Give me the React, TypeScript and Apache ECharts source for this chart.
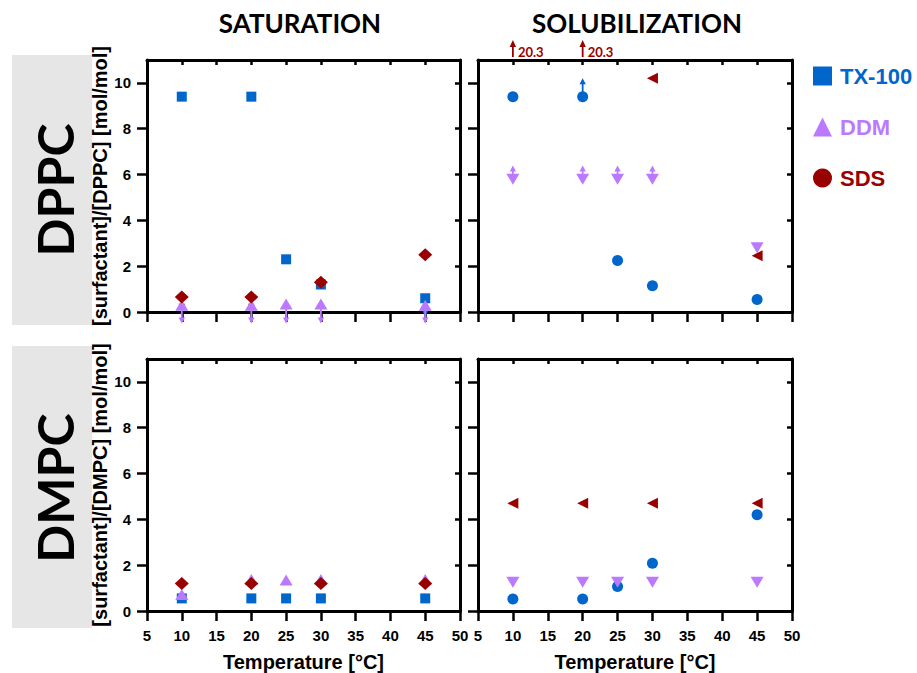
import React, { useEffect, useRef } from 'react';
import * as echarts from 'echarts';

// ---------- data ----------
const xTicks = [5, 10, 15, 20, 25, 30, 35, 40, 45, 50];
const yTicks = [0, 2, 4, 6, 8, 10];
const panelTitles = ['SATURATION', 'SOLUBILIZATION'];
const lipids = ['DPPC', 'DMPC'];
const yAxisNames = ['[surfactant]/[DPPC] [mol/mol]', '[surfactant]/[DMPC] [mol/mol]'];
const xAxisName = 'Temperature [°C]';
const surfactants = ['TX-100', 'DDM', 'SDS'];

// SATURATION – DPPC
const satDppcTX = [[10, 9.4], [20, 9.4], [25, 2.3], [30, 1.2], [45, 0.6]];
const satDppcDDM = [[10, 0.3], [20, 0.3], [25, 0.35], [30, 0.35], [45, 0.3]];
const satDppcSDS = [[10, 0.65], [20, 0.65], [30, 1.3], [45, 2.5]];
const satDppcTXArrows = [[45, 0.6, -0.2]];
const satDppcDDMArrows = [[10, 0.3, -0.5], [20, 0.3, -0.5], [25, 0.35, -0.5], [30, 0.35, -0.5], [45, 0.3, -0.5]];
const satDppcSDSArrows = [[10, 0.65, 0.1], [20, 0.65, 0.1]];

// SOLUBILIZATION – DPPC
const solDppcTX = [[10, 9.4], [20, 9.4], [25, 2.25], [30, 1.15], [45, 0.55]];
const solDppcDDM = [[10, 5.8], [20, 5.8], [25, 5.8], [30, 5.8], [45, 2.8]];
const solDppcSDS = [[30, 10.2], [45, 2.45]];
const solDppcSDSOffScale = [[10, 20.3], [20, 20.3]];
const solDppcTXArrows = [[20, 9.4, 10.2]];
const solDppcDDMArrows = [[10, 5.8, 6.4], [20, 5.8, 6.4], [25, 5.8, 6.4], [30, 5.8, 6.4]];

// SATURATION – DMPC
const satDmpcTX = [[10, 0.55], [20, 0.55], [25, 0.55], [30, 0.55], [45, 0.55]];
const satDmpcDDM = [[10, 0.72], [20, 1.38], [25, 1.35], [30, 1.38], [45, 1.38]];
const satDmpcSDS = [[10, 1.2], [20, 1.2], [30, 1.2], [45, 1.2]];

// SOLUBILIZATION – DMPC
const solDmpcTX = [[10, 0.52], [20, 0.52], [25, 1.07], [30, 2.08], [45, 4.2]];
const solDmpcDDM = [[10, 1.25], [20, 1.25], [25, 1.25], [30, 1.25], [45, 1.25]];
const solDmpcSDS = [[10, 4.7], [20, 4.7], [30, 4.7], [45, 4.7]];

// ---------- style ----------
const BLUE = '#0066CC';
const PURPLE = '#BB79FF';
const RED = '#990000';
const AXIS_FONT = '"Liberation Sans", Arial, sans-serif';
const TITLE_FONT = 'Lato, "Open Sans", sans-serif';

const grids = [
  { left: 147, top: 60, width: 313, height: 252 },
  { left: 478, top: 60, width: 314, height: 252 },
  { left: 147, top: 359, width: 313, height: 252 },
  { left: 478, top: 359, width: 314, height: 252 },
];

function buildOption() {
  const xAxis: any[] = [];
  const yAxis: any[] = [];
  grids.forEach((_, i) => {
    const isBottomRow = i >= 2;
    const isLeftCol = i % 2 === 0;
    xAxis.push({
      type: 'value', gridIndex: i, position: 'bottom', min: 5, max: 50, interval: 5,
      axisLine: { show: true, onZero: false, lineStyle: { color: '#000', width: 3 } },
      axisTick: { show: true, inside: false, length: 10, customValues: xTicks, lineStyle: { color: '#000', width: 2.5 } },
      axisLabel: { show: isBottomRow, customValues: xTicks, margin: 17, color: '#000', fontFamily: AXIS_FONT, fontWeight: 'bold', fontSize: 15 },
      splitLine: { show: false },
      name: isBottomRow ? xAxisName : '', nameLocation: 'middle', nameGap: 41,
      nameTextStyle: { color: '#000', fontFamily: AXIS_FONT, fontWeight: 'bold', fontSize: 20 },
    });
    xAxis.push({
      type: 'value', gridIndex: i, position: 'top', min: 5, max: 50, interval: 5,
      axisLine: { show: true, onZero: false, lineStyle: { color: '#000', width: 3 } },
      axisTick: { show: true, inside: true, length: 5, customValues: xTicks, lineStyle: { color: '#000', width: 2.5 } },
      axisLabel: { show: false }, splitLine: { show: false },
    });
    yAxis.push({
      type: 'value', gridIndex: i, position: 'left', min: 0, max: 11,
      axisLine: { show: true, onZero: false, lineStyle: { color: '#000', width: 3 } },
      axisTick: { show: true, inside: false, length: 10, customValues: yTicks, lineStyle: { color: '#000', width: 2.5 } },
      axisLabel: { show: isLeftCol, customValues: yTicks, margin: 16, color: '#000', fontFamily: AXIS_FONT, fontWeight: 'bold', fontSize: 15 },
      splitLine: { show: false },
      name: isLeftCol ? yAxisNames[isBottomRow ? 1 : 0] : '', nameLocation: 'middle', nameGap: 31, nameRotate: 90,
      nameTextStyle: { color: '#000', fontFamily: AXIS_FONT, fontWeight: 'bold', fontSize: 20 },
    });
    yAxis.push({
      type: 'value', gridIndex: i, position: 'right', min: 0, max: 11,
      axisLine: { show: true, onZero: false, lineStyle: { color: '#000', width: 3 } },
      axisTick: { show: true, inside: true, length: 5, customValues: yTicks, lineStyle: { color: '#000', width: 2.5 } },
      axisLabel: { show: false }, splitLine: { show: false },
    });
  });

  const scatter = (panel: number, name: string, data: number[][], color: string, symbol: string, size: any, rotate = 0) => ({
    type: 'scatter', name, data, xAxisIndex: panel * 2, yAxisIndex: panel * 2,
    symbol, symbolSize: size, symbolRotate: rotate,
    itemStyle: { color, opacity: 1 }, emphasis: { disabled: true }, z: 3,
  });

  const arrows = (panel: number, name: string, data: number[][], color: string) => ({
    type: 'custom', name, data, xAxisIndex: panel * 2, yAxisIndex: panel * 2,
    encode: { x: 0, y: [1, 2] }, clip: false, z: 2, silent: true,
    renderItem: (params: any, api: any) => {
      const x = api.value(0);
      const p0 = api.coord([x, api.value(1)]);
      const p1 = api.coord([x, api.value(2)]);
      const dir = p1[1] < p0[1] ? -1 : 1;
      const h = 6, w = 3.2;
      return {
        type: 'group',
        children: [
          { type: 'line', shape: { x1: p0[0], y1: p0[1], x2: p1[0], y2: p1[1] - dir * h * 0.6 }, style: { stroke: color, lineWidth: 1.8 } },
          { type: 'polygon', shape: { points: [[p1[0], p1[1]], [p1[0] - w, p1[1] - dir * h], [p1[0] + w, p1[1] - dir * h]] }, style: { fill: color } },
        ],
      };
    },
  });

  const offScale = (panel: number, name: string, data: number[][], color: string) => ({
    type: 'custom', name, data, xAxisIndex: panel * 2, yAxisIndex: panel * 2,
    encode: { x: 0, y: 1 }, clip: false, silent: true,
    renderItem: (params: any, api: any) => {
      const px = api.coord([api.value(0), 0])[0];
      const top = params.coordSys.y;
      return {
        type: 'group',
        children: [
          { type: 'line', shape: { x1: px, y1: top - 3, x2: px, y2: top - 15 }, style: { stroke: color, lineWidth: 1.8 } },
          { type: 'polygon', shape: { points: [[px, top - 20], [px - 3.2, top - 13], [px + 3.2, top - 13]] }, style: { fill: color } },
          { type: 'text', x: px + 5, y: top - 8, style: { text: String(api.value(1)), fill: color, font: `bold 13px ${TITLE_FONT}`, align: 'left', verticalAlign: 'middle', textAlign: 'left', textVerticalAlign: 'middle' } },
        ],
      };
    },
  });

  const series: any[] = [
    // panel 0: saturation DPPC
    arrows(0, 'a0t', satDppcTXArrows, BLUE),
    arrows(0, 'a0d', satDppcDDMArrows, PURPLE),
    arrows(0, 'a0s', satDppcSDSArrows, RED),
    scatter(0, surfactants[0], satDppcTX, BLUE, 'rect', 10),
    scatter(0, surfactants[1], satDppcDDM, PURPLE, 'triangle', [13, 11]),
    scatter(0, surfactants[2], satDppcSDS, RED, 'diamond', [14, 13]),
    // panel 1: solubilization DPPC
    arrows(1, 'a1t', solDppcTXArrows, BLUE),
    arrows(1, 'a1d', solDppcDDMArrows, PURPLE),
    scatter(1, surfactants[0], solDppcTX, BLUE, 'circle', 11),
    scatter(1, surfactants[1], solDppcDDM, PURPLE, 'triangle', [13, 11], 180),
    scatter(1, surfactants[2], solDppcSDS, RED, 'triangle', [11, 11], 90),
    offScale(1, 'o1s', solDppcSDSOffScale, RED),
    // panel 2: saturation DMPC
    scatter(2, surfactants[0], satDmpcTX, BLUE, 'rect', 10),
    scatter(2, surfactants[1], satDmpcDDM, PURPLE, 'triangle', [13, 11]),
    scatter(2, surfactants[2], satDmpcSDS, RED, 'diamond', [14, 13]),
    // panel 3: solubilization DMPC
    scatter(3, surfactants[0], solDmpcTX, BLUE, 'circle', 11),
    scatter(3, surfactants[1], solDmpcDDM, PURPLE, 'triangle', [13, 11], 180),
    scatter(3, surfactants[2], solDmpcSDS, RED, 'triangle', [11, 11], 90),
  ];

  const textEl = (text: string, x: number, y: number, font: string, rotation = 0) => ({
    type: 'text', x, y, rotation, silent: true,
    style: { text, fill: '#000', font, align: 'center', verticalAlign: 'middle', textAlign: 'center', textVerticalAlign: 'middle' },
  });

  const graphic = [
    { type: 'rect', silent: true, shape: { x: 12, y: 55, width: 80, height: 270 }, style: { fill: '#E6E6E6' } },
    { type: 'rect', silent: true, shape: { x: 12, y: 346, width: 80, height: 282 }, style: { fill: '#E6E6E6' } },
    textEl(lipids[0], 55, 190, `bold 50px ${TITLE_FONT}`, Math.PI / 2),
    textEl(lipids[1], 55, 488, `bold 50px ${TITLE_FONT}`, Math.PI / 2),
    textEl(panelTitles[0], 300, 23, `bold 26px ${TITLE_FONT}`),
    textEl(panelTitles[1], 637, 23, `bold 26px ${TITLE_FONT}`),
  ];

  return {
    animation: false,
    backgroundColor: '#fff',
    grid: grids.map((g) => ({ ...g, containLabel: false })),
    xAxis, yAxis, series, graphic,
    legend: {
      orient: 'vertical', left: 808, top: 60, itemWidth: 19, itemHeight: 19, itemGap: 29,
      selectedMode: false,
      textStyle: { fontFamily: AXIS_FONT, fontWeight: 'bold', fontSize: 22, padding: [0, 0, 0, 3] },
      data: [
        { name: surfactants[0], icon: 'rect', itemStyle: { color: BLUE }, textStyle: { color: BLUE } },
        { name: surfactants[1], icon: 'triangle', itemStyle: { color: PURPLE }, textStyle: { color: PURPLE } },
        { name: surfactants[2], icon: 'circle', itemStyle: { color: RED }, textStyle: { color: RED } },
      ],
    },
  };
}

export default function App() {
  const ref = useRef<HTMLDivElement>(null);
  useEffect(() => {
    if (!ref.current) return;
    const chart = echarts.init(ref.current, undefined, { renderer: 'svg' });
    chart.setOption(buildOption() as any);
    return () => chart.dispose();
  }, []);
  return <div ref={ref} style={{ position: 'fixed', left: 0, top: 0, width: 917, height: 673, background: '#fff' }} />;
}
